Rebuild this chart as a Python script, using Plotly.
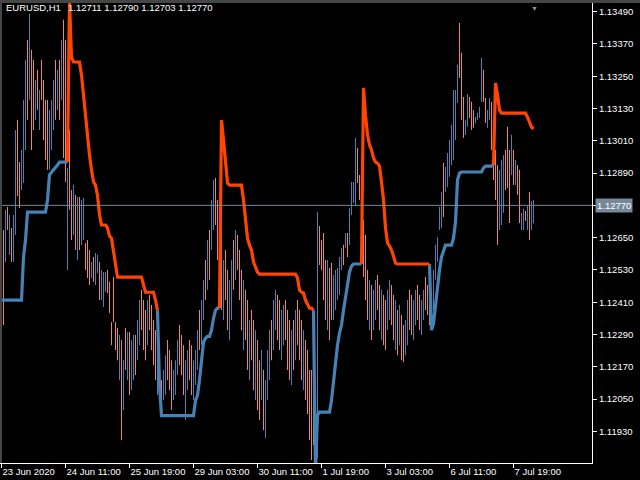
import plotly.graph_objects as go

symbol_text = "EURUSD,H1"
ohlc_text = "1.12711 1.12790 1.12703 1.12770"
last_close = 1.12770

price_ticks = [1.11930, 1.12050, 1.12170, 1.12290, 1.12410, 1.12530, 1.12650,
               1.12770, 1.12890, 1.13010, 1.13130, 1.13250, 1.13370, 1.13490]
time_tick_bars = [0, 32, 64, 96, 128, 160, 192, 224, 256]
time_tick_labels = ["23 Jun 2020", "24 Jun 11:00", "25 Jun 19:00", "29 Jun 03:00",
                    "30 Jun 11:00", "1 Jul 19:00", "3 Jul 03:00", "6 Jul 11:00", "7 Jul 19:00"]

highs = [
    1.12641, 1.12678, 1.12753, 1.12764, 1.12734, 1.12686, 1.12734, 1.13050, 1.13088, 1.12931,
    1.12976, 1.13162, 1.13311, 1.13385, 1.13482, 1.13348, 1.13311, 1.13236, 1.13274, 1.13199,
    1.13311, 1.13236, 1.13162, 1.13162, 1.13125, 1.13162, 1.13236, 1.13311, 1.13274, 1.13311,
    1.13385, 1.13460, 1.13385, 1.12909, 1.13050, 1.12827, 1.12846, 1.12809, 1.12801, 1.12801,
    1.12790, 1.12798, 1.12630, 1.12641, 1.12604, 1.12560, 1.12578, 1.12593, 1.12586, 1.12560,
    1.12530, 1.12522, 1.12522, 1.12530, 1.12486, 1.12336, 1.12504, 1.12336, 1.12314, 1.12288,
    1.12269, 1.12194, 1.12314, 1.12299, 1.12299, 1.12269, 1.12288, 1.12288, 1.12344, 1.12418,
    1.12456, 1.12418, 1.12381, 1.12418, 1.12437, 1.12400, 1.12344, 1.12306, 1.12269, 1.12250,
    1.12120, 1.12158, 1.12213, 1.12269, 1.12232, 1.12194, 1.12158, 1.12194, 1.12269, 1.12325,
    1.12288, 1.12250, 1.12194, 1.12232, 1.12269, 1.12250, 1.12194, 1.12232, 1.12306, 1.12381,
    1.12418, 1.12493, 1.12567, 1.12641, 1.12678, 1.12790, 1.12864, 1.12872, 1.12790, 1.12716,
    1.12678, 1.12567, 1.12604, 1.12530, 1.12493, 1.12567, 1.12641, 1.12678, 1.12660, 1.12604,
    1.12530, 1.12493, 1.12456, 1.12418, 1.12344, 1.12381, 1.12344, 1.12306, 1.12269, 1.12194,
    1.12232, 1.12158, 1.12120, 1.12232, 1.12306, 1.12344, 1.12418, 1.12456, 1.12437, 1.12418,
    1.12381, 1.12400, 1.12418, 1.12381, 1.12344, 1.12306, 1.12344, 1.12381, 1.12418, 1.12381,
    1.12344, 1.12306, 1.12269, 1.12232, 1.12158, 1.12158, 1.12083, 1.12046, 1.12745, 1.12693,
    1.12641, 1.12667, 1.12567, 1.12567, 1.12537, 1.12556, 1.12511, 1.12530, 1.12537, 1.12578,
    1.12612, 1.12623, 1.12667, 1.12667, 1.12760, 1.12857, 1.12857, 1.13021, 1.12983, 1.12883,
    1.12857, 1.12716, 1.12660, 1.12530, 1.12493, 1.12474, 1.12456, 1.12493, 1.12511, 1.12474,
    1.12456, 1.12437, 1.12418, 1.12456, 1.12493, 1.12474, 1.12437, 1.12418, 1.12381, 1.12400,
    1.12362, 1.12325, 1.12344, 1.12418, 1.12456, 1.12437, 1.12418, 1.12456, 1.12474, 1.12437,
    1.12418, 1.12456, 1.12504, 1.12474, 1.12456, 1.12437, 1.12530, 1.12623, 1.12652, 1.12764,
    1.12820, 1.12928, 1.12913, 1.12965, 1.13013, 1.13069, 1.13199, 1.13199, 1.13292, 1.13448,
    1.13337, 1.13173, 1.13088, 1.13184, 1.13173, 1.13155, 1.13125, 1.13099, 1.13114, 1.13136,
    1.13318, 1.13274, 1.13169, 1.13125, 1.13169, 1.13155, 1.13050, 1.12976, 1.12920, 1.12902,
    1.12939, 1.12957, 1.12976, 1.13062, 1.12976, 1.13032, 1.12976, 1.12939, 1.12920, 1.12902,
    1.12742, 1.12757, 1.12749, 1.12768, 1.12820, 1.12786, 1.12790,
]

lows = [
    1.12418, 1.12325, 1.12560, 1.12678, 1.12586, 1.12560, 1.12560, 1.12660, 1.12805, 1.12760,
    1.12827, 1.12853, 1.12976, 1.13088, 1.13162, 1.12976, 1.13050, 1.13088, 1.13125, 1.13050,
    1.13162, 1.13013, 1.12939, 1.12902, 1.12902, 1.12976, 1.13050, 1.13088, 1.13125, 1.13088,
    1.13162, 1.12946, 1.12857, 1.12530, 1.12753, 1.12641, 1.12660, 1.12604, 1.12567, 1.12604,
    1.12623, 1.12641, 1.12530, 1.12500, 1.12474, 1.12500, 1.12486, 1.12474, 1.12518, 1.12418,
    1.12418, 1.12392, 1.12448, 1.12444, 1.12370, 1.12250, 1.12336, 1.12232, 1.12194, 1.12120,
    1.11897, 1.12009, 1.12158, 1.12120, 1.12065, 1.12083, 1.12120, 1.12139, 1.12194, 1.12250,
    1.12306, 1.12232, 1.12194, 1.12250, 1.12306, 1.12232, 1.12176, 1.12120, 1.12065, 1.12046,
    1.11990, 1.12046, 1.12065, 1.12120, 1.12083, 1.12009, 1.12046, 1.12065, 1.12139, 1.12176,
    1.12139, 1.12065, 1.11972, 1.12083, 1.12120, 1.12065, 1.12046, 1.12102, 1.12158, 1.12232,
    1.12250, 1.12344, 1.12418, 1.12456, 1.12493, 1.12604, 1.12678, 1.12697, 1.12567, 1.12418,
    1.12381, 1.12344, 1.12418, 1.12306, 1.12269, 1.12344, 1.12456, 1.12493, 1.12530, 1.12418,
    1.12306, 1.12232, 1.12269, 1.12158, 1.12120, 1.12194, 1.12083, 1.12046, 1.12009, 1.11972,
    1.12046, 1.11934, 1.11905, 1.12046, 1.12120, 1.12194, 1.12232, 1.12306, 1.12269, 1.12232,
    1.12194, 1.12250, 1.12269, 1.12158, 1.12120, 1.12102, 1.12158, 1.12194, 1.12250, 1.12194,
    1.12120, 1.12083, 1.12046, 1.11994, 1.11897, 1.11823, 1.11879, 1.11823, 1.11830, 1.12548,
    1.12530, 1.12418, 1.12344, 1.12306, 1.12269, 1.12344, 1.12344, 1.12381, 1.12418, 1.12437,
    1.12530, 1.12548, 1.12612, 1.12578, 1.12623, 1.12734, 1.12779, 1.12771, 1.12853, 1.12790,
    1.12742, 1.12504, 1.12418, 1.12344, 1.12306, 1.12269, 1.12306, 1.12344, 1.12381, 1.12306,
    1.12269, 1.12250, 1.12232, 1.12306, 1.12344, 1.12325, 1.12269, 1.12232, 1.12213, 1.12250,
    1.12194, 1.12187, 1.12213, 1.12250, 1.12306, 1.12288, 1.12269, 1.12325, 1.12344, 1.12306,
    1.12288, 1.12344, 1.12381, 1.12362, 1.12325, 1.12306, 1.12381, 1.12493, 1.12560, 1.12678,
    1.12686, 1.12727, 1.12820, 1.12838, 1.12876, 1.12920, 1.12939, 1.13013, 1.13151, 1.13244,
    1.13088, 1.13021, 1.13032, 1.13062, 1.13095, 1.13050, 1.13058, 1.13076, 1.13088, 1.13095,
    1.13155, 1.13155, 1.13076, 1.13058, 1.13088, 1.12976, 1.12864, 1.12790, 1.12623, 1.12678,
    1.12697, 1.12742, 1.12827, 1.12835, 1.12704, 1.12883, 1.12846, 1.12846, 1.12809, 1.12704,
    1.12678, 1.12678, 1.12712, 1.12678, 1.12641, 1.12678, 1.12703,
]

bar_dir = (
    "u d u d u d u u d d "
    "u u u d u d d u d u "
    "d d d d u u u d u d "
    "u d d u d d u d u d "
    "u u d d d u d u u d "
    "u u u d d d d d d u "
    "d u d u d u u d u u "
    "d d d u d d d d u d "
    "d u u d d d u u u d "
    "d d u u d d u u u d "
    "u u d u d u u d d d "
    "d u d d u u d u d d "
    "d u d d u d d u d d "
    "u d u u u d u u d d "
    "u u d d d u d u d d "
    "d u d d d d d d u d "
    "d d d u d d u u u u "
    "u d u d u u u u d d "
    "u d d d u d u u d d "
    "u d d u u d d u d u "
    "d d u u d d u u d d "
    "u u d d d u u u u u "
    "u d u u u u u u u d "
    "d d u u d d d u u u "
    "u d d u u d d d d u "
    "u u d d d u d u d d "
    "u u d u d u u"
).split()

# stepped indicator lines: (first bar index, values)
blue_segments = [
    (0, [1.12418, 1.12418, 1.12418, 1.12418, 1.12418, 1.12418, 1.12418, 1.12418, 1.12418, 1.12418,
         1.12418, 1.12577, 1.12641, 1.12745, 1.12745, 1.12745, 1.12745, 1.12745, 1.12745, 1.12745,
         1.12745, 1.12745, 1.12745, 1.12790, 1.12883, 1.12893, 1.12901, 1.12912, 1.12920, 1.12931,
         1.12931, 1.12931, 1.12931, 1.12931]),
    (78, [1.12380, 1.12100, 1.11988, 1.11988, 1.11988, 1.11988, 1.11988, 1.11988, 1.11988, 1.11988,
          1.11988, 1.11988, 1.11988, 1.11988, 1.11988, 1.11988, 1.11988, 1.11988, 1.11988, 1.12045,
          1.12064, 1.12120, 1.12194, 1.12262, 1.12276, 1.12283, 1.12283, 1.12306, 1.12350, 1.12380,
          1.12388, 1.12388]),
    (156, [1.12380, 1.11790, 1.11990, 1.12001, 1.12001, 1.12001, 1.12001, 1.12001, 1.12001, 1.12045,
           1.12120, 1.12194, 1.12250, 1.12295, 1.12325, 1.12380, 1.12436, 1.12474, 1.12522, 1.12544,
           1.12552, 1.12552, 1.12552, 1.12552, 1.12552]),
    (214, [1.12552, 1.12306, 1.12330, 1.12399, 1.12474, 1.12530, 1.12578, 1.12604, 1.12622, 1.12622,
           1.12622, 1.12622, 1.12648, 1.12708, 1.12864, 1.12890, 1.12894, 1.12894, 1.12894, 1.12894,
           1.12894, 1.12894, 1.12894, 1.12894, 1.12894, 1.12894, 1.12894, 1.12909, 1.12916, 1.12916,
           1.12916, 1.12916, 1.12920]),
]

orange_segments = [
    (33, [1.12931, 1.13530, 1.13320, 1.13303, 1.13303, 1.13303, 1.13303, 1.13255, 1.13180, 1.13095,
          1.13032, 1.12957, 1.12901, 1.12857, 1.12845, 1.12808, 1.12734, 1.12697, 1.12697, 1.12697,
          1.12686, 1.12656, 1.12648, 1.12604, 1.12548, 1.12503, 1.12503, 1.12503, 1.12503, 1.12503,
          1.12503, 1.12503, 1.12503, 1.12503, 1.12503, 1.12503, 1.12503, 1.12503, 1.12474, 1.12447,
          1.12447, 1.12447, 1.12447, 1.12447, 1.12417, 1.12380]),
    (109, [1.12388, 1.13087, 1.13013, 1.12938, 1.12853, 1.12845, 1.12845, 1.12845, 1.12845, 1.12845,
           1.12845, 1.12845, 1.12790, 1.12708, 1.12648, 1.12622, 1.12604, 1.12559, 1.12537, 1.12522,
           1.12514, 1.12514, 1.12514, 1.12514, 1.12514, 1.12514, 1.12514, 1.12514, 1.12514, 1.12514,
           1.12514, 1.12514, 1.12514, 1.12514, 1.12514, 1.12514, 1.12514, 1.12514, 1.12514, 1.12500,
           1.12455, 1.12447, 1.12444, 1.12417, 1.12399, 1.12388, 1.12388, 1.12380]),
    (180, [1.12552, 1.13207, 1.13106, 1.13032, 1.12995, 1.12976, 1.12946, 1.12931, 1.12927, 1.12916,
           1.12857, 1.12790, 1.12686, 1.12630, 1.12619, 1.12604, 1.12581, 1.12555, 1.12552, 1.12552,
           1.12552, 1.12552, 1.12552, 1.12552, 1.12552, 1.12552, 1.12552, 1.12552, 1.12552, 1.12552,
           1.12552, 1.12552, 1.12552, 1.12552, 1.12552]),
    (246, [1.12920, 1.13225, 1.13180, 1.13124, 1.13113, 1.13113, 1.13113, 1.13113, 1.13113, 1.13113,
           1.13113, 1.13113, 1.13113, 1.13113, 1.13113, 1.13113, 1.13113, 1.13098, 1.13080, 1.13061,
           1.13054]),
]

assert len(highs) == len(lows) == len(bar_dir) == 267


def bar_xy(flag):
    xs, ys = [], []
    for i, (h, l, d) in enumerate(zip(highs, lows, bar_dir)):
        if d == flag:
            xs += [i, i, None]
            ys += [l, h, None]
    return xs, ys


def seg_xy(segs):
    xs, ys = [], []
    for start, vals in segs:
        xs += list(range(start, start + len(vals))) + [None]
        ys += list(vals) + [None]
    return xs, ys


fig = go.Figure()
ux, uy = bar_xy("u")
dx, dy = bar_xy("d")
fig.add_trace(go.Scatter(x=ux, y=uy, mode="lines", line=dict(color="#4682B4", width=1),
                         hoverinfo="skip"))
fig.add_trace(go.Scatter(x=dx, y=dy, mode="lines", line=dict(color="#F08080", width=1),
                         hoverinfo="skip"))
bx, by = seg_xy(blue_segments)
ox, oy = seg_xy(orange_segments)
fig.add_trace(go.Scatter(x=bx, y=by, mode="lines", line=dict(color="#4682B4", width=3.2),
                         connectgaps=False, hoverinfo="skip"))
fig.add_trace(go.Scatter(x=ox, y=oy, mode="lines", line=dict(color="#FF4500", width=3.2),
                         connectgaps=False, hoverinfo="skip"))

font_family = "Liberation Sans, Arial, sans-serif"
axis_font = dict(color="white", size=9.5, family=font_family)

fig.update_layout(
    width=640, height=480, autosize=False,
    paper_bgcolor="black", plot_bgcolor="black",
    margin=dict(l=0, r=48, t=3, b=17, pad=0),
    showlegend=False,
    xaxis=dict(range=[-0.75, 295.25], tickvals=time_tick_bars, ticktext=time_tick_labels,
               ticks="outside", ticklen=4, tickcolor="white", tickwidth=1,
               showline=True, linecolor="white", linewidth=1, mirror=False,
               showgrid=False, zeroline=False, tickfont=axis_font,
               ticklabelposition="outside right", fixedrange=True),
    yaxis=dict(side="right", range=[1.118121, 1.135223], tickvals=price_ticks,
               ticktext=["" if abs(v - last_close) < 1e-9 else f"{v:.5f}" for v in price_ticks],
               ticks="outside", ticklen=4, tickcolor="white", tickwidth=1,
               showline=True, linecolor="white", linewidth=1,
               showgrid=False, zeroline=False, tickfont=axis_font, fixedrange=True),
    shapes=[
        dict(type="line", xref="paper", x0=0, x1=1, yref="y", y0=last_close, y1=last_close,
             line=dict(color="#778899", width=1), layer="above"),
        dict(type="rect", xref="paper", x0=-0.01, x1=1.1, yref="paper", y0=1, y1=1.0075,
             fillcolor="#464646", line=dict(width=0), layer="above"),
        dict(type="rect", xref="paper", x0=0, x1=0.0034, yref="paper", y0=0, y1=1,
             fillcolor="#464646", line=dict(width=0), layer="above"),
    ],
    annotations=[
        dict(text=symbol_text, xref="paper", x=0, xanchor="left", xshift=4,
             yref="paper", y=1, yanchor="middle", yshift=-4, showarrow=False,
             font=dict(color="white", size=9.5, family=font_family)),
        dict(text=ohlc_text, xref="paper", x=0, xanchor="left", xshift=66,
             yref="paper", y=1, yanchor="middle", yshift=-4, showarrow=False,
             font=dict(color="white", size=9.5, family=font_family)),
        dict(text=f"{last_close:.5f}", xref="paper", x=1, xanchor="left", xshift=3,
             yref="y", y=last_close, yanchor="middle", showarrow=False,
             bgcolor="#778899", borderpad=1,
             font=dict(color="white", size=9.5, family=font_family)),
        dict(text="▼", xref="x", x=266.35, xanchor="center", yref="paper", y=1,
             yanchor="top", yshift=1, showarrow=False,
             font=dict(color="#8a949e", size=7)),
    ],
)

fig.write_html("out.html", config={"displayModeBar": False},
               post_script="document.body.style.margin='0';")
